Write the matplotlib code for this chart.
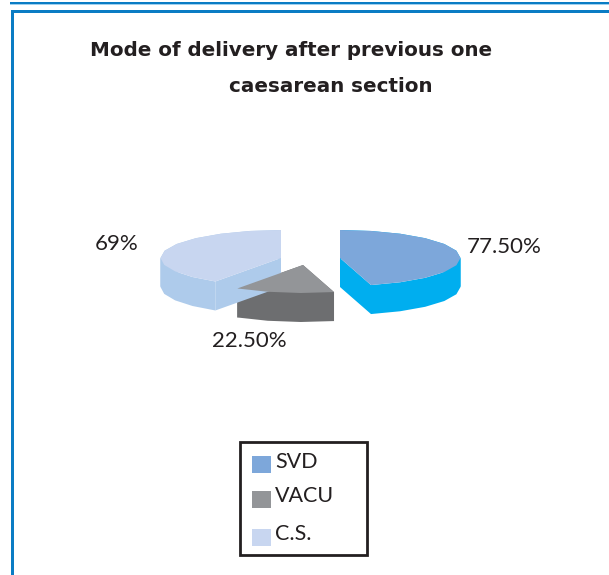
import numpy as np
import matplotlib
matplotlib.use("Agg")
import matplotlib.pyplot as plt
from matplotlib.patches import Polygon, Rectangle

categories = ["SVD", "VACU", "C.S."]
values = [77.5, 22.5, 69.0]
value_labels = ["77.50%", "22.50%", "69%"]
title_lines = ["Mode of delivery after previous one", "caesarean section"]

top_colors = ["#7da7da", "#939598", "#c8d6f0"]
side_colors = ["#00aeef", "#6d6e70", "#aecbeb"]
apexes = [(340, 258), (303, 265), (281, 258)]
label_pos = [(504.5, 247), (249.5, 341), (117, 244)]
legend_y = [464.5, 499.5, 537.5]
RX, RY, DEPTH = 120.5, 28, 29

plt.rcParams["font.family"] = ["Lato", "DejaVu Sans"]
fig = plt.figure(figsize=(6.09, 5.75), dpi=100)
ax = fig.add_axes([0, 0, 1, 1])
ax.set_xlim(0, 609)
ax.set_ylim(575, 0)
ax.axis("off")

# Page frame
ax.add_patch(Rectangle((10, 2), 599, 2, fc="#0a7cc4", ec="none"))
ax.add_patch(Rectangle((10, 4), 599, 1, fc="#9fd0ee", ec="none"))
ax.add_patch(Rectangle((11, 10), 598, 2.5, fc="#0a7cc4", ec="none"))
ax.add_patch(Rectangle((11, 10), 2.5, 565, fc="#0a7cc4", ec="none"))

ax.text(90, 50, title_lines[0], fontsize=14.3, fontweight="bold", color="#231f20",
        ha="left", va="center", family="DejaVu Sans")
ax.text(229, 87, title_lines[1], fontsize=14.3, fontweight="bold", color="#231f20",
        ha="left", va="center", family="DejaVu Sans")

def rim(cx, cy, a0, a1, dy=0):
    n = max(3, int((a1 - a0) / 14) + 1)
    t = np.radians(np.linspace(a0, a1, n))
    return np.column_stack([cx + RX * np.sin(t), cy + dy - RY * np.cos(t)])

total = sum(values)
spans = np.array(values) / total * 360
starts = np.concatenate([[0], np.cumsum(spans)[:-1]])

for i in [2, 0, 1]:
    cx, cy = apexes[i]
    a0, a1 = starts[i], starts[i] + spans[i]
    # split the outer wall where the rim turns, so each piece fills as one band
    breaks = [a0] + [d for d in (90, 270) if a0 < d < a1] + [a1]
    top_parts = []
    for b0, b1 in zip(breaks[:-1], breaks[1:]):
        arc = rim(cx, cy, b0, b1)
        low = rim(cx, cy, b0, b1, DEPTH)
        ax.add_patch(Polygon(np.vstack([arc, low[::-1]]), fc=side_colors[i], ec="none", zorder=2 + i))
        top_parts.append(arc)
    outline = np.vstack(top_parts)
    for edge in (outline[0], outline[-1]):
        cut = [(cx, cy), tuple(edge), (edge[0], edge[1] + DEPTH), (cx, cy + DEPTH)]
        ax.add_patch(Polygon(cut, fc=side_colors[i], ec="none", zorder=2 + i))
    ax.add_patch(Polygon(np.vstack([[(cx, cy)], outline]), fc=top_colors[i], ec="none", zorder=6 + i))

for lab, (x, y) in zip(value_labels, label_pos):
    ax.text(x, y, lab, fontsize=16, color="#231f20", ha="center", va="center", zorder=12)

# Legend
ax.add_patch(Rectangle((240, 442), 127, 113, fc="white", ec="#231f20", lw=2, zorder=13))
for cat, col, y in zip(categories, top_colors, legend_y):
    ax.add_patch(Rectangle((252, y - 8.5), 19, 17, fc=col, ec="none", zorder=14))
    ax.text(275, y - 3, cat, fontsize=15.5, color="#231f20", ha="left", va="center", zorder=14)

fig.savefig("out.png", dpi=100)
